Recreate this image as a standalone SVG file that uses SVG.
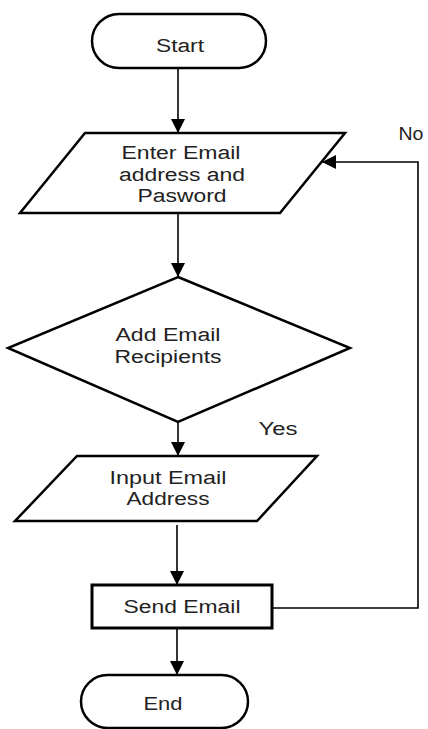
<svg xmlns="http://www.w3.org/2000/svg" width="428" height="729" viewBox="0 0 428 729">
<style>
.shape{fill:#fff;stroke:#000;stroke-width:2.5}
.box{fill:#fff;stroke:#000;stroke-width:3}
.conn{fill:none;stroke:#000;stroke-width:1.6}
text{font-family:"Liberation Sans",Arial,sans-serif;font-size:18px;fill:#222;text-anchor:middle}
</style>
<defs>
<marker id="arr" markerUnits="userSpaceOnUse" markerWidth="14" markerHeight="14" viewBox="0 0 14 14" refX="14" refY="7" orient="auto">
<path d="M0,0 L14,7 L0,14 Z" fill="#000"/>
</marker>
</defs>
<rect width="428" height="729" fill="#fff"/>
<g id="connectors">
<line class="conn" x1="178" y1="68" x2="178" y2="133" marker-end="url(#arr)"/>
<line class="conn" x1="178" y1="213" x2="178" y2="277" marker-end="url(#arr)"/>
<line class="conn" x1="178" y1="422" x2="178" y2="456" marker-end="url(#arr)"/>
<line class="conn" x1="177" y1="525" x2="177" y2="585" marker-end="url(#arr)"/>
<line class="conn" x1="177" y1="628" x2="177" y2="675" marker-end="url(#arr)"/>
<polyline class="conn" points="272,608 418,608 418,162 322,162" marker-end="url(#arr)"/>
<text x="278" y="435" textLength="39" lengthAdjust="spacingAndGlyphs">Yes</text>
<text x="411" y="140" textLength="25" lengthAdjust="spacingAndGlyphs">No</text>
</g>
<g id="start">
<rect class="shape" x="92" y="14" width="174" height="54" rx="27"/>
<text x="180" y="52" textLength="48" lengthAdjust="spacingAndGlyphs">Start</text>
</g>
<g id="enter">
<polygon class="shape" points="85,133 345,133 280,213 20,213"/>
<text x="181" y="159" textLength="119" lengthAdjust="spacingAndGlyphs">Enter Email</text>
<text x="182" y="181" textLength="126" lengthAdjust="spacingAndGlyphs">address and</text>
<text x="182" y="202" textLength="89" lengthAdjust="spacingAndGlyphs">Pasword</text>
</g>
<g id="decision">
<polygon class="shape" points="178,277 350,348 178,422 8,348"/>
<text x="168" y="341" textLength="105" lengthAdjust="spacingAndGlyphs">Add Email</text>
<text x="168" y="363" textLength="107" lengthAdjust="spacingAndGlyphs">Recipients</text>
</g>
<g id="input">
<polygon class="shape" points="77,456 317,456 257,521 15,521"/>
<text x="168" y="484" textLength="117" lengthAdjust="spacingAndGlyphs">Input Email</text>
<text x="168" y="505" textLength="83" lengthAdjust="spacingAndGlyphs">Address</text>
</g>
<g id="send">
<rect class="box" x="92" y="585" width="180" height="43"/>
<text x="182" y="613" textLength="117" lengthAdjust="spacingAndGlyphs">Send Email</text>
</g>
<g id="end">
<rect class="shape" x="81" y="675" width="167" height="53" rx="26.5"/>
<text x="163" y="710" textLength="39" lengthAdjust="spacingAndGlyphs">End</text>
</g>
</svg>
